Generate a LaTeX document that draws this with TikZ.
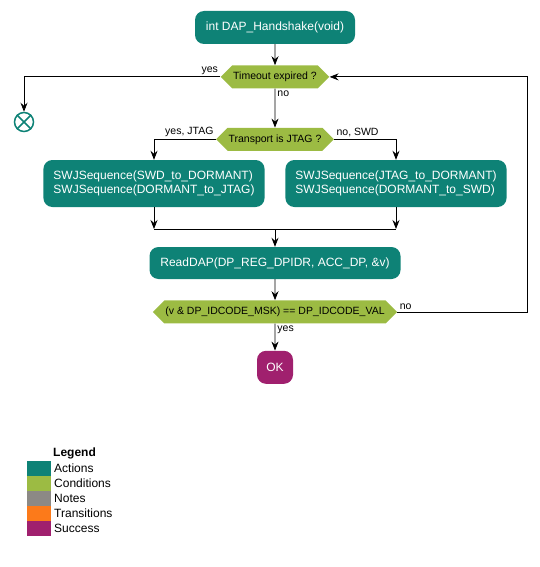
\documentclass[tikz,border=0pt]{standalone}
\usepackage{fontspec}
\setmainfont{Liberation Sans}
\usetikzlibrary{shapes.symbols, arrows.meta, positioning, calc}
\definecolor{actionc}{HTML}{0E8276}
\definecolor{condc}{HTML}{9CBB43}
\definecolor{notec}{HTML}{8C8985}
\definecolor{transc}{HTML}{FC7A1A}
\definecolor{okc}{HTML}{A0206E}

\begin{document}
\begin{tikzpicture}[
        x=1pt, y=-1pt,
        action/.style={rectangle, rounded corners=9pt, fill=actionc, text=white, align=left, font=\fontsize{12}{14}\selectfont, inner xsep=10pt},
        decision/.style={signal, signal to=west and east, fill=condc, font=\fontsize{10.5}{12}\selectfont, minimum height=23pt, inner xsep=1pt, inner ysep=0pt},
        success/.style={rectangle, rounded corners=9pt, fill=okc, text=white, font=\fontsize{12}{14}\selectfont, minimum width=36pt, minimum height=33pt},
        flow/.style={-{Stealth[length=9pt, width=7pt, inset=3pt]}, line width=0.8pt},
        edgelabel/.style={font=\fontsize{10.5}{12}\selectfont, inner sep=2pt},
        keytext/.style={anchor=west, font=\fontsize{12}{14}\selectfont, inner sep=2pt}
    ]
        \useasboundingbox (0,0) rectangle (539,567);

        % Nodes
        \node[action, minimum width=160pt, minimum height=33pt] (start) at (275,27.5) {int DAP\_Handshake(void)};
        \node[decision, below=21pt of start] (timeout) {Timeout expired ?};
        \node[decision, below=39pt of timeout] (transport) {Transport is JTAG ?};
        \node[action, minimum width=220pt, minimum height=47pt] (tojtag) at (154,183.5) {SWJSequence(SWD\_to\_DORMANT)\\SWJSequence(DORMANT\_to\_JTAG)};
        \node[action, minimum width=220pt, minimum height=47pt] (toswd) at (396,183.5) {SWJSequence(JTAG\_to\_DORMANT)\\SWJSequence(DORMANT\_to\_SWD)};
        \coordinate (merge) at (275,229);
        \node[action, minimum width=251pt, minimum height=32pt] (readdap) at (275,263) {ReadDAP(DP\_REG\_DPIDR, ACC\_DP, \&v)};
        \node[decision, below=21pt of readdap] (idcheck) {(v \& DP\_IDCODE\_MSK) == DP\_IDCODE\_VAL};
        \node[success, below=27pt of idcheck] (ok) {OK};
        \node[circle, draw=actionc, line width=1.5pt, minimum size=19pt, inner sep=0pt] (stop) at (24,122) {};
        \draw[actionc, line width=1.5pt] (stop.north west) -- (stop.south east) (stop.north east) -- (stop.south west);
        \coordinate (loop) at (527,0);

        % Connectors
        \draw[flow] (start) -- (timeout);
        \draw[flow] (timeout.west) -| (stop) node[edgelabel, pos=0, above left] {yes};
        \draw[flow] (timeout) -- (transport) node[edgelabel, pos=0, below right] {no};
        \draw[flow] (transport.west) -| (tojtag) node[edgelabel, pos=0, above left] {yes, JTAG};
        \draw[flow] (transport.east) -| (toswd) node[edgelabel, pos=0, above right] {no, SWD};
        \draw[flow] (tojtag) -- (tojtag |- merge);
        \draw[flow] (toswd) -- (toswd |- merge);
        \draw[line width=0.8pt] (tojtag |- merge) -- (toswd |- merge);
        \draw[flow] (merge) -- (readdap);
        \draw[flow] (readdap) -- (idcheck);
        \draw[flow] (idcheck) -- (ok) node[edgelabel, pos=0, below right] {yes};
        \draw[flow] (idcheck.east) -- node[edgelabel, pos=0, above right] {no} (idcheck.east -| loop)
            -- (timeout.east -| loop) -- (timeout.east);

        % Legend
        \node[keytext, font=\bfseries\fontsize{12}{14}\selectfont] (legend) at (51,453) {Legend};
        \foreach \col/\name [count=\i from 0] in {actionc/Actions, condc/Conditions, notec/Notes, transc/Transitions, okc/Success} {
            \fill[\col] (27,461+15*\i) rectangle ++(24,15);
            \node[keytext] (key\i) at (52,468.5+15*\i) {\name};
        }
    \end{tikzpicture}
\end{document}
